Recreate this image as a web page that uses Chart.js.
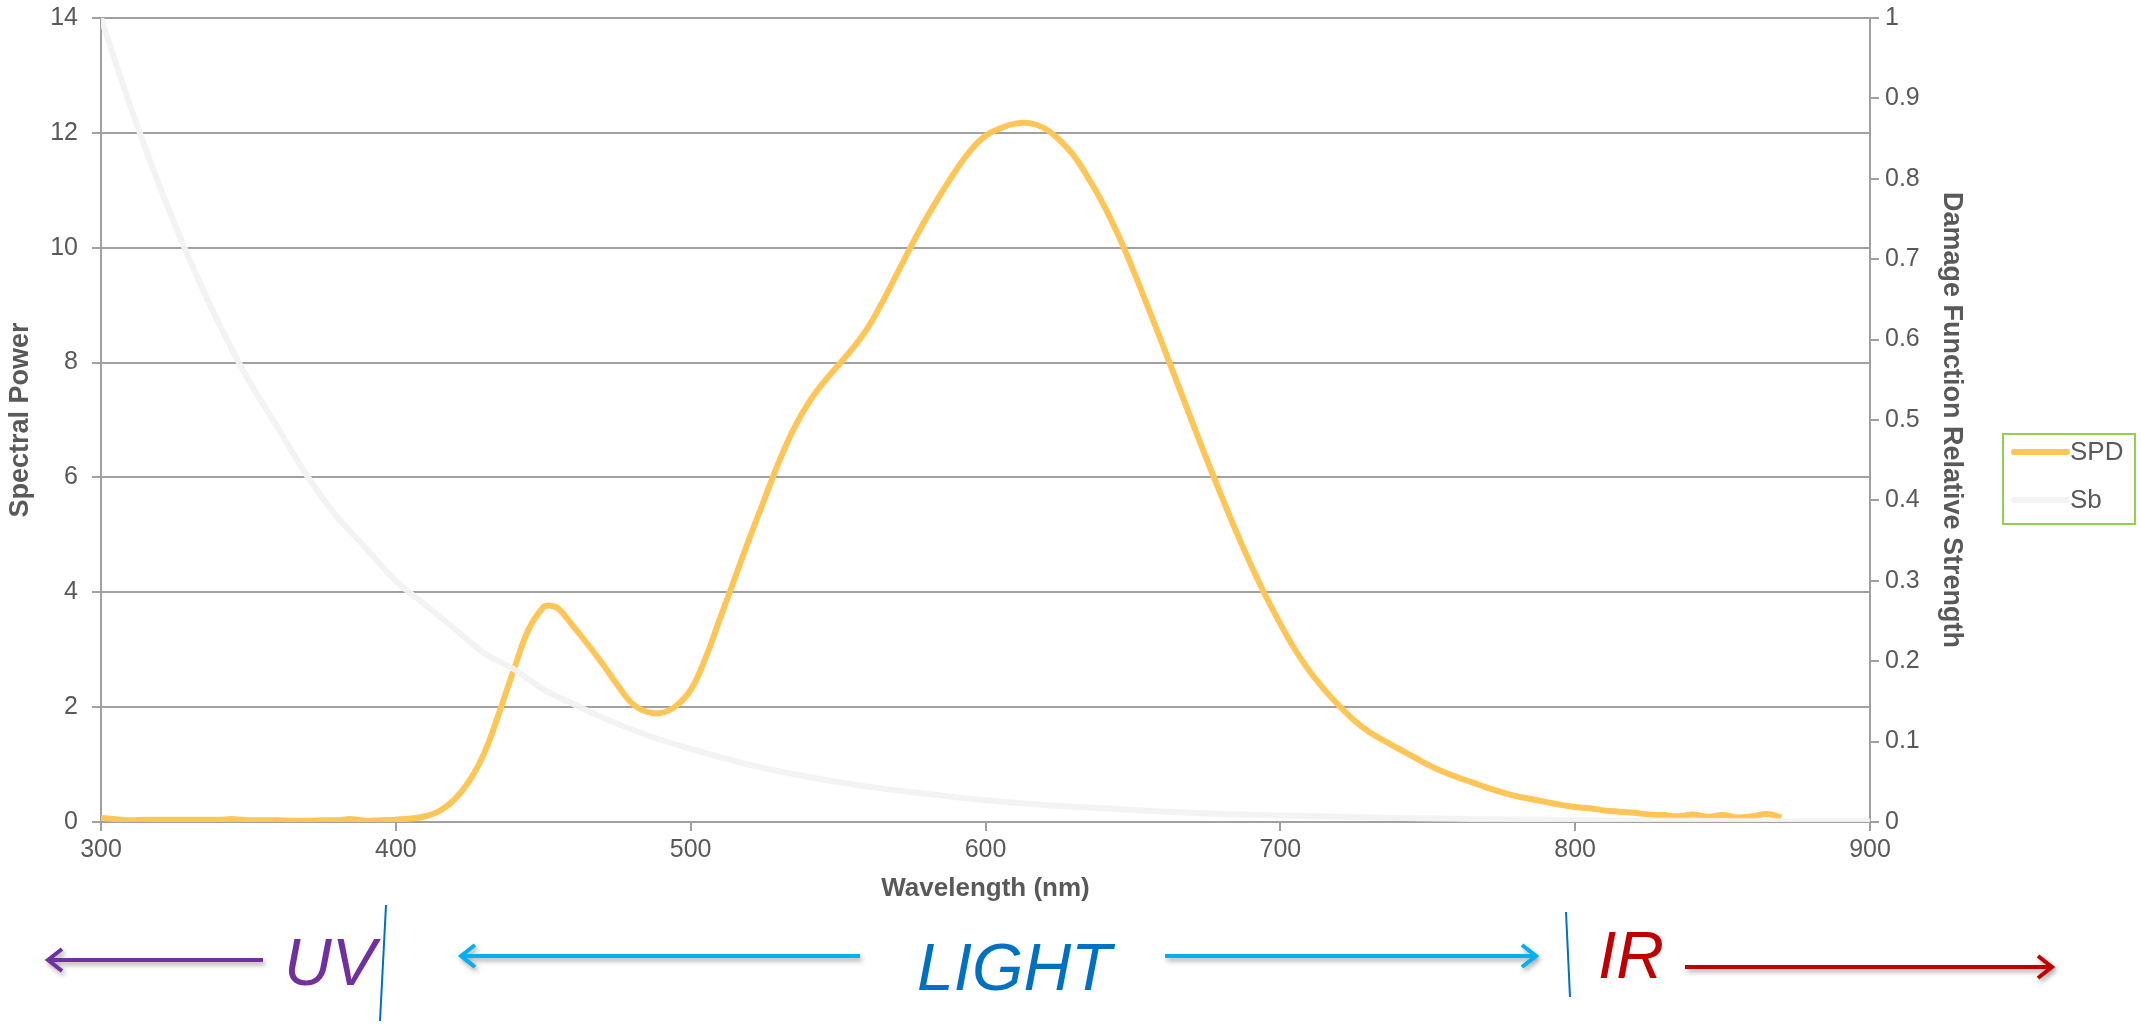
<!DOCTYPE html>
<html>
<head>
<meta charset="utf-8">
<script src="https://cdn.jsdelivr.net/npm/chart.js@4.4.1/dist/chart.umd.min.js"></script>
<style>
  html, body { margin: 0; padding: 0; background: #ffffff; }
  #wrap { width: 2141px; height: 1025px; position: relative; }
</style>
</head>
<body>
<div id="wrap"><canvas id="myChart"></canvas></div>
<script>
// wavelength (nm) and spectral power of the lamp
const spdWavelengths = [300,305,310,315,320,325,330,335,340,345,350,355,360,365,370,375,380,385,390,395,
  400,405,410,415,420,425,430,435,440,445,450,452,455,460,465,470,475,480,485,490,495,
  500,505,510,515,520,525,530,535,540,545,550,555,560,565,570,575,580,585,590,595,
  600,605,610,615,620,625,630,635,640,645,650,655,660,665,670,675,680,685,690,695,
  700,705,710,715,720,725,730,735,740,745,750,755,760,765,770,775,780,785,790,795,
  800,805,810,815,820,825,830,835,840,845,850,855,860,865,870];
const spdValues = [0.07,0.05,0.03,0.04,0.04,0.04,0.04,0.04,0.04,0.05,0.03,0.03,0.03,0.02,0.02,0.03,0.03,0.05,0.02,0.03,
  0.04,0.06,0.1,0.2,0.4,0.72,1.2,1.9,2.65,3.35,3.74,3.77,3.72,3.42,3.1,2.76,2.4,2.07,1.92,1.9,2.02,
  2.3,2.85,3.55,4.25,4.95,5.62,6.28,6.85,7.3,7.65,7.95,8.25,8.6,9.05,9.55,10.05,10.52,10.95,11.35,11.7,
  11.95,12.08,12.16,12.17,12.08,11.88,11.6,11.2,10.75,10.22,9.62,8.98,8.32,7.65,6.98,6.32,5.68,5.06,4.48,3.94,
  3.45,3.0,2.62,2.3,2.02,1.77,1.57,1.42,1.28,1.14,1.0,0.88,0.78,0.69,0.6,0.52,0.45,0.4,0.35,0.3,
  0.26,0.24,0.2,0.18,0.16,0.13,0.12,0.1,0.13,0.09,0.12,0.08,0.1,0.14,0.08];

// damage function relative strength
const sbWavelengths = [300,310,320,330,340,350,360,370,380,390,400,410,420,430,440,450,460,470,480,490,
  500,520,540,560,580,600,620,640,660,680,700,720,740,760,780,800,830,860,900];
const sbValues = [1.0,0.89,0.79,0.70,0.62,0.55,0.49,0.43,0.38,0.34,0.30,0.27,0.24,0.21,0.19,0.165,0.147,0.13,0.115,0.102,
  0.091,0.071,0.056,0.044,0.035,0.027,0.021,0.017,0.013,0.010,0.008,0.0065,0.005,0.004,0.003,0.0025,0.0015,0.001,0.0005];

const seriesNames = ['SPD', 'Sb'];
const xTicks = [300, 400, 500, 600, 700, 800, 900];

const textColor = '#595959';
const gridColor = '#a0a0a0';
const fontFamily = '"Liberation Sans", Arial, sans-serif';

const spdPoints = spdWavelengths.map((w, i) => ({ x: w, y: spdValues[i] }));
const sbPoints = sbWavelengths.map((w, i) => ({ x: w, y: sbValues[i] }));

const canvas = document.getElementById('myChart');
canvas.width = 2141;
canvas.height = 1025;
const ctx = canvas.getContext('2d');

function arrow(c, x1, x2, y, color, left) {
  c.save();
  c.strokeStyle = color;
  c.lineWidth = 4;
  c.shadowColor = 'rgba(0,0,0,0.35)';
  c.shadowBlur = 5;
  c.shadowOffsetX = 2;
  c.shadowOffsetY = 3;
  c.beginPath();
  c.moveTo(x1, y);
  c.lineTo(x2, y);
  const tip = left ? x1 : x2;
  const d = left ? 14 : -14;
  c.moveTo(tip + d, y - 11);
  c.lineTo(tip, y);
  c.lineTo(tip + d, y + 11);
  c.stroke();
  c.restore();
}

function slash(c, x1, y1, x2, y2) {
  c.save();
  c.strokeStyle = '#0070c0';
  c.lineWidth = 2;
  c.beginPath();
  c.moveTo(x1, y1);
  c.lineTo(x2, y2);
  c.stroke();
  c.restore();
}

// keep tick label overhang from pushing the plot area down
function fitY(width) {
  return (scale) => {
    scale.width = width;
    scale.paddingTop = 0;
    scale.paddingBottom = 0;
  };
}

new Chart(ctx, {
  type: 'line',
  data: {
    datasets: [
      {
        label: seriesNames[0],
        data: spdPoints,
        yAxisID: 'y',
        borderColor: '#ffc557',
        borderWidth: 6,
        pointRadius: 0,
        tension: 0.4,
        order: 1,
      },
      {
        label: seriesNames[1],
        data: sbPoints,
        yAxisID: 'y1',
        borderColor: 'rgba(242,242,242,0.95)',
        borderWidth: 6,
        pointRadius: 0,
        cubicInterpolationMode: 'monotone',
        order: 0,
      },
    ],
  },
  options: {
    responsive: false,
    animation: false,
    devicePixelRatio: 1,
    layout: {
      padding: { left: 0, right: 171, top: 18, bottom: 119 },
    },
    plugins: {
      legend: { display: false },
      tooltip: { enabled: false },
    },
    scales: {
      x: {
        type: 'linear',
        min: 300,
        max: 900,
        afterBuildTicks: (scale) => { scale.ticks = xTicks.map(v => ({ value: v })); },
        afterFit: (scale) => { scale.height = 84; },
        border: { color: gridColor, width: 2 },
        grid: { drawOnChartArea: false, color: gridColor, lineWidth: 2, tickLength: 9 },
        ticks: { color: textColor, font: { family: fontFamily, size: 25 }, padding: 4, maxRotation: 0 },
        title: {
          display: true,
          text: 'Wavelength (nm)',
          color: textColor,
          font: { family: fontFamily, size: 26, weight: 'bold' },
          padding: { top: 0, bottom: 2 },
        },
      },
      y: {
        position: 'left',
        min: 0,
        max: 14,
        afterFit: fitY(101),
        border: { color: gridColor, width: 2 },
        grid: { color: gridColor, lineWidth: 2, tickLength: 9 },
        ticks: { stepSize: 2, color: textColor, font: { family: fontFamily, size: 25 }, padding: 14 },
        title: {
          display: true,
          text: 'Spectral Power',
          color: textColor,
          font: { family: fontFamily, size: 27, weight: 'bold' },
          padding: { top: 4, bottom: 6 },
        },
      },
      y1: {
        position: 'right',
        min: 0,
        max: 1,
        afterFit: fitY(100),
        border: { color: gridColor, width: 2 },
        grid: { drawOnChartArea: false, color: gridColor, lineWidth: 2, tickLength: 9 },
        ticks: {
          stepSize: 0.1,
          color: textColor,
          font: { family: fontFamily, size: 25 },
          padding: 6,
          callback: (v) => String(Math.round(v * 10) / 10),
        },
        title: {
          display: true,
          text: 'Damage Function Relative Strength',
          color: textColor,
          font: { family: fontFamily, size: 27, weight: 'bold' },
          padding: { top: 2, bottom: 0 },
        },
      },
    },
  },
  plugins: [
    {
      id: 'background-color',
      beforeDraw: (chart) => {
        const c = chart.ctx;
        c.save();
        c.fillStyle = '#ffffff';
        c.fillRect(0, 0, chart.width, chart.height);
        c.restore();
      },
    },
    {
      id: 'legend-box',
      afterDraw: (chart) => {
        const c = chart.ctx;
        c.save();
        c.strokeStyle = '#92d050';
        c.lineWidth = 2;
        c.strokeRect(2003, 434, 132, 90);
        c.font = '26px ' + fontFamily;
        c.fillStyle = textColor;
        c.textBaseline = 'middle';
        c.lineCap = 'round';
        chart.data.datasets.forEach((ds, i) => {
          const y = 452 + i * 48;
          c.strokeStyle = ds.borderColor;
          c.lineWidth = 6;
          c.beginPath();
          c.moveTo(2014, y);
          c.lineTo(2067, y);
          c.stroke();
          c.fillText(ds.label, 2070, y + 1);
        });
        c.restore();
      },
    },
    {
      id: 'regions',
      afterDraw: (chart) => {
        const c = chart.ctx;
        c.save();
        c.font = 'italic 66px ' + fontFamily;
        c.textBaseline = 'alphabetic';
        c.fillStyle = '#7030a0';
        c.fillText('UV', 284, 985);
        c.fillStyle = '#0070c0';
        c.fillText('LIGHT', 917, 990);
        c.fillStyle = '#c00000';
        c.fillText('IR', 1598, 978);
        c.restore();
        arrow(c, 48, 263, 960, '#7030a0', true);
        arrow(c, 461, 860, 956, '#00b0f0', true);
        arrow(c, 1165, 1536, 956, '#00b0f0', false);
        arrow(c, 1685, 2052, 967, '#c00000', false);
        slash(c, 386, 905, 380, 1021);
        slash(c, 1566, 912, 1570, 997);
      },
    },
  ],
});
</script>
</body>
</html>
